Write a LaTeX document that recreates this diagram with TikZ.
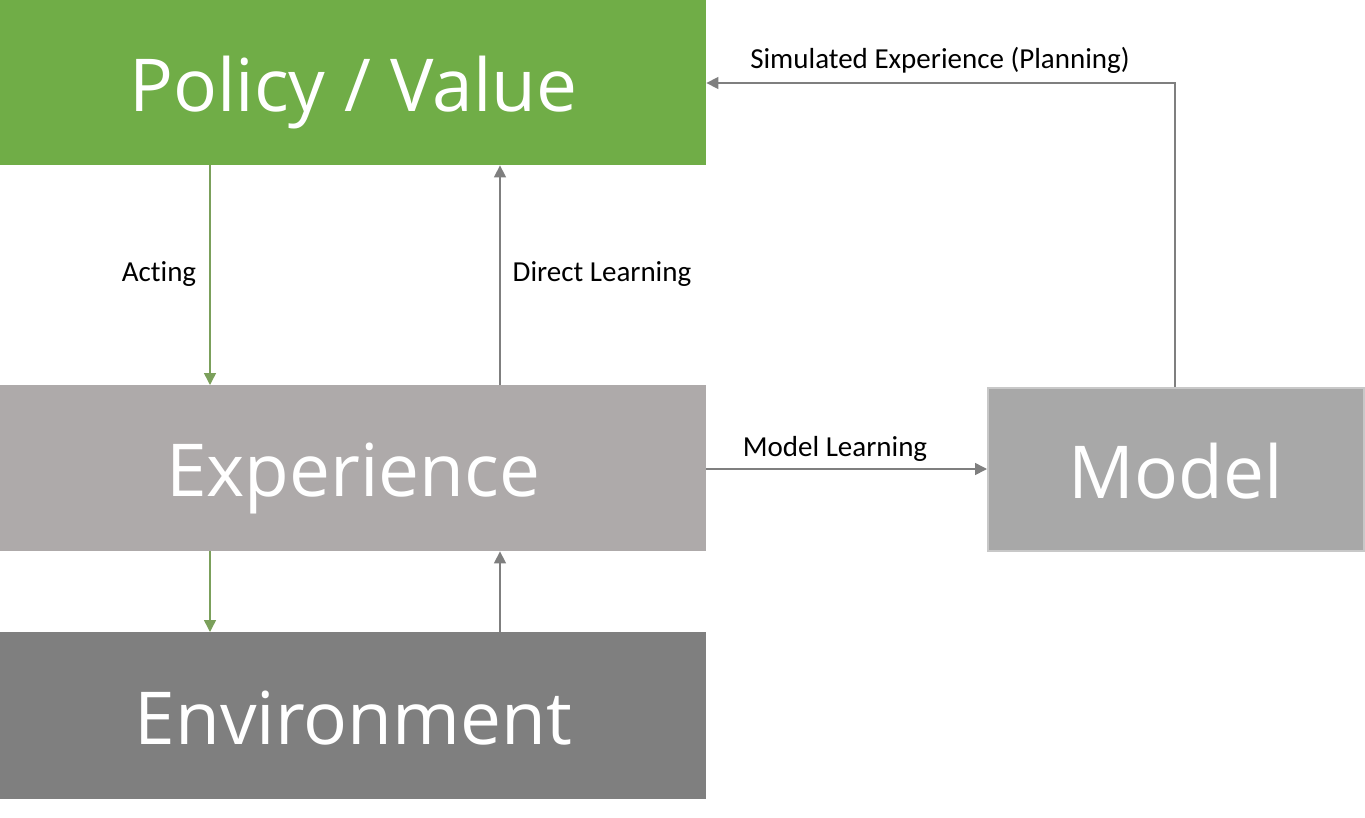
\documentclass[tikz,border=0pt]{standalone}
\usepackage{fontspec}
\setmainfont{Open Sans}
\newfontfamily\lblfont[Ligatures={NoCommon}]{Carlito}
\usetikzlibrary{arrows.meta}
\definecolor{pgreen}{HTML}{70AD47}
\definecolor{agreen}{HTML}{7BA05B}
\definecolor{expgray}{HTML}{AEAAAA}
\definecolor{envgray}{HTML}{7F7F7F}
\definecolor{modgray}{HTML}{A8A8A8}
\definecolor{modedge}{HTML}{C8C8C8}
\definecolor{lgray}{HTML}{7F7F7F}
\tikzset{
  bigbox/.style={rectangle, inner sep=0pt, anchor=north west, text=white,
    font=\fontsize{73}{76}\selectfont, text height=57pt, text depth=0pt},
  lbl/.style={font=\lblfont\fontsize{29}{31}\selectfont, text=black, inner sep=0pt, anchor=base},
  garrow/.style={draw=agreen, line width=1.5pt, -{Triangle[length=12pt,width=12pt]}},
  karrow/.style={draw=lgray, line width=1.5pt, -{Triangle[length=12pt,width=12pt]}},
}
\begin{document}
\begin{tikzpicture}[x=1pt,y=-1pt]
\useasboundingbox (0,0) rectangle (1365,817);
\node[bigbox, fill=pgreen, minimum width=706pt, minimum height=165pt] (pv) at (0,0) {Policy / Value};
\node[bigbox, fill=expgray, minimum width=706pt, minimum height=166pt] (exp) at (0,385) {Experience};
\node[bigbox, fill=envgray, minimum width=706pt, minimum height=167pt] (env) at (0,632) {Environment};
\node[bigbox, fill=modgray, draw=modedge, line width=2pt, minimum width=376pt, minimum height=163pt] (mod) at (987,387) {Model};
\coordinate (c1) at (1175,83);
% Acting
\draw[garrow] (pv.south west) ++(210,0) coordinate (a1) -- (a1 |- exp.north);
\node[lbl] (lacting) at (159,281) {Acting};
% Direct learning
\draw[karrow] (exp.north west) ++(500,0) coordinate (d1) -- (d1 |- pv.south);
\node[lbl] (ldirect) at (602,281) {Direct Learning};
% exp -> env
\draw[garrow] (exp.south west) ++(210,0) coordinate (e1) -- (e1 |- env.north);
% env -> exp
\draw[karrow] (env.north west) ++(500,0) coordinate (f1) -- (f1 |- exp.south);
% model learning
\draw[karrow] (exp.east |- 0,469) -- (mod.west |- 0,469);
\node[lbl] (lmodel) at (835,456) {Model Learning};
% simulated
\draw[karrow] (mod.north -| c1) -- (c1) -- (pv.east |- c1);
\node[lbl] (lsim) at (940,68) {Simulated Experience (Planning)};
\end{tikzpicture}
\end{document}
